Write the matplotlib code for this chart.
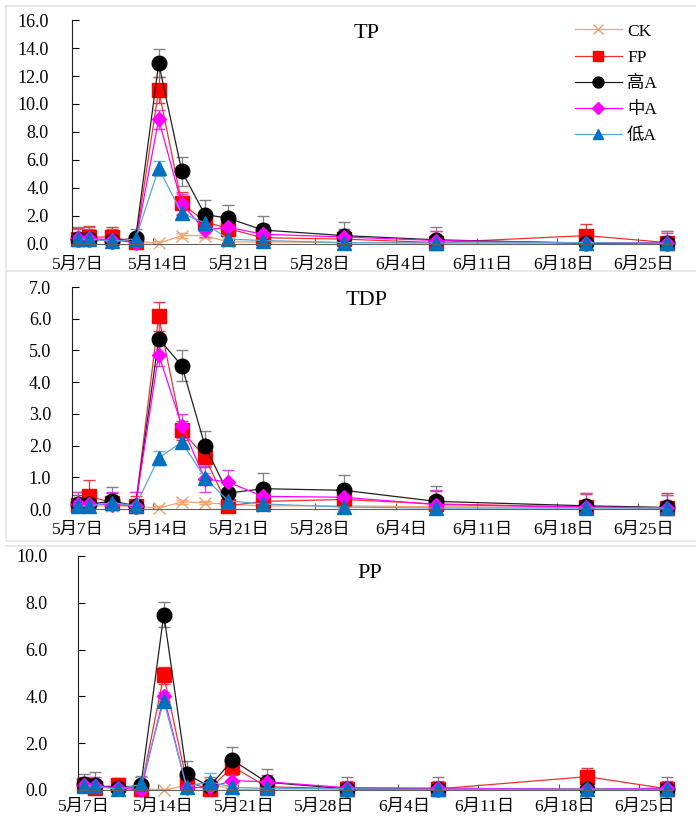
import numpy as np
import pandas as pd
import matplotlib
matplotlib.use("Agg")
import matplotlib.pyplot as plt
from matplotlib.lines import Line2D

plt.rcParams['font.family'] = ['Liberation Serif', 'Noto Sans CJK SC']

# sampling dates
dates = ["2020-05-07", "2020-05-08", "2020-05-10", "2020-05-12", "2020-05-14",
         "2020-05-16", "2020-05-18", "2020-05-20", "2020-05-23", "2020-05-30",
         "2020-06-07", "2020-06-20", "2020-06-27"]
start = pd.Timestamp("2020-05-07")
days = np.array([(pd.Timestamp(d) - start).days for d in dates]) + 0.5

tick_dates = pd.date_range("2020-05-07", "2020-06-25", freq="7D")
tick_labels = [f"{d.month}月{d.day}日" for d in tick_dates]
tick_days = np.array([(d - start).days for d in tick_dates])

series_names = ["CK", "FP", "高A", "中A", "低A"]

# TP
tp_ck   = [0.30, 0.30, 0.25, 0.20, 0.05, 0.60, 0.60, 0.15, 0.15, 0.10, 0.10, 0.05, 0.05]
tp_fp   = [0.35, 0.50, 0.50, 0.12, 11.0, 2.90, 1.60, 1.10, 0.45, 0.35, 0.10, 0.60, 0.10]
tp_high = [0.35, 0.35, 0.25, 0.40, 12.9, 5.20, 2.10, 1.85, 1.00, 0.60, 0.30, 0.05, 0.05]
tp_mid  = [0.40, 0.40, 0.30, 0.10, 8.90, 2.85, 1.00, 1.20, 0.70, 0.50, 0.25, 0.08, 0.08]
tp_low  = [0.35, 0.35, 0.20, 0.35, 5.40, 2.20, 1.50, 0.35, 0.25, 0.10, 0.07, 0.10, 0.05]
tp_err_ck   = [0.2] * 13
tp_err_fp   = [0.8, 0.8, 0.7, 0.6, 0.9, 0.8, 0.6, 0.5, 0.5, 0.5, 0.8, 0.8, 0.8]
tp_err_high = [0.9, 0.9, 0.8, 0.7, 1.0, 1.05, 1.05, 0.95, 1.0, 1.0, 0.95, 0.6, 0.9]
tp_err_mid  = [0.7, 0.7, 0.6, 0.6, 0.7, 0.7, 0.5, 0.5, 0.7, 0.6, 0.7, 0.5, 0.7]
tp_err_low  = [0.3, 0.3, 0.3, 0.4, 0.55, 0.4, 0.3, 0.2, 0.2, 0.2, 0.3, 0.2, 0.2]

# TDP
tdp_ck   = [0.10, 0.10, 0.10, 0.08, 0.03, 0.22, 0.20, 0.15, 0.10, 0.10, 0.07, 0.05, 0.03]
tdp_fp   = [0.14, 0.40, 0.20, 0.10, 6.07, 2.48, 1.63, 0.10, 0.24, 0.30, 0.16, 0.06, 0.04]
tdp_high = [0.15, 0.15, 0.25, 0.10, 5.37, 4.52, 2.00, 0.50, 0.64, 0.59, 0.24, 0.10, 0.05]
tdp_mid  = [0.15, 0.15, 0.14, 0.10, 4.87, 2.63, 0.95, 0.85, 0.40, 0.37, 0.14, 0.06, 0.04]
tdp_low  = [0.10, 0.10, 0.20, 0.10, 1.61, 2.11, 0.98, 0.26, 0.16, 0.06, 0.03, 0.03, 0.03]
tdp_err_ck   = [0.05] * 13
tdp_err_fp   = [0.3, 0.5, 0.3, 0.3, 0.46, 0.3, 0.3, 0.1, 0.2, 0.3, 0.4, 0.4, 0.45]
tdp_err_high = [0.4, 0.4, 0.45, 0.45, 0.5, 0.48, 0.47, 0.3, 0.5, 0.47, 0.47, 0.4, 0.4]
tdp_err_mid  = [0.4, 0.4, 0.4, 0.45, 0.35, 0.38, 0.4, 0.39, 0.37, 0.4, 0.45, 0.45, 0.4]
tdp_err_low  = [0.15, 0.15, 0.15, 0.15, 0.23, 0.15, 0.15, 0.1, 0.1, 0.05, 0.05, 0.05, 0.05]

# PP
pp_ck   = [0.15, 0.10, 0.10, 0.05, 0.00, 0.20, 0.30, 0.00, 0.05, 0.05, 0.03, 0.03, 0.03]
pp_fp   = [0.20, 0.10, 0.20, 0.03, 4.90, 0.36, 0.03, 1.00, 0.14, 0.05, 0.05, 0.57, 0.05]
pp_high = [0.24, 0.20, 0.10, 0.20, 7.50, 0.67, 0.15, 1.28, 0.33, 0.05, 0.05, 0.03, 0.05]
pp_mid  = [0.20, 0.15, 0.10, 0.00, 4.00, 0.10, 0.11, 0.40, 0.35, 0.10, 0.08, 0.03, 0.08]
pp_low  = [0.17, 0.17, 0.03, 0.24, 3.80, 0.14, 0.36, 0.11, 0.07, 0.05, 0.03, 0.03, 0.03]
pp_err_ck   = [0.05] * 13
pp_err_fp   = [0.3, 0.3, 0.3, 0.3, 0.36, 0.4, 0.3, 0.35, 0.3, 0.3, 0.3, 0.35, 0.3]
pp_err_high = [0.45, 0.55, 0.35, 0.4, 0.54, 0.58, 0.4, 0.57, 0.55, 0.5, 0.5, 0.4, 0.5]
pp_err_mid  = [0.35, 0.4, 0.3, 0.3, 0.2, 0.3, 0.3, 0.3, 0.3, 0.3, 0.3, 0.3, 0.3]
pp_err_low  = [0.3, 0.3, 0.2, 0.3, 0.2, 0.2, 0.35, 0.2, 0.2, 0.1, 0.1, 0.1, 0.1]

styles = [
    dict(color="#F2A36B", marker="x", ms=9, mfc="#F2A36B", mec="#F2A36B", ecolor="#F2A36B"),
    dict(color="#F03030", marker="s", ms=9.5, mfc="#FF0000", mec="#FF0000", ecolor="#E03A3A"),
    dict(color="#202020", marker="o", ms=10.5, mfc="#000000", mec="#000000", ecolor="#808080"),
    dict(color="#FF00FF", marker="D", ms=7.5, mfc="#FF00FF", mec="#FF00FF", ecolor="#E040E0"),
    dict(color="#5AA5DA", marker="^", ms=9.5, mfc="#0070C0", mec="#0070C0", ecolor="#6FB0DD"),
]


def draw(ax, vals, errs, ymax, ystep, title, pad_y, pad_x):
    for name, v, e, st in zip(series_names, vals, errs, styles):
        line, caps, bars = ax.errorbar(
            days, v, yerr=e, color=st["color"], lw=0.9, marker=st["marker"],
            ms=st["ms"], mfc=st["mfc"], mec=st["mec"], mew=1.0,
            ecolor=st["ecolor"], elinewidth=0.9, capsize=4, capthick=0.9, label=name)
        line.set_clip_on(False)
    ax.set_xlim(0, 52)
    ax.set_ylim(0, ymax)
    yt = np.arange(0, ymax + 0.01, ystep)
    ax.set_yticks(yt)
    ax.set_yticklabels([f"{t:.1f}" for t in yt])
    ax.set_xticks(tick_days)
    ax.set_xticklabels([])
    ax.set_xticks(tick_days + 0.5, minor=True)
    ax.set_xticklabels(tick_labels, minor=True)
    ax.tick_params(axis="x", which="major", direction="in", length=4, color="#555555")
    ax.tick_params(axis="x", which="minor", length=0, pad=pad_x, labelsize=12.5)
    ax.tick_params(axis="y", direction="in", length=5, pad=pad_y, labelsize=13)
    for s in ["top", "right"]:
        ax.spines[s].set_visible(False)
    ax.spines["left"].set_color("#202020")
    ax.spines["bottom"].set_color("#606060")
    ax.text(0.49, 0.94, title, transform=ax.transAxes, ha="center", va="center", fontsize=16)


W, H = 696, 817
fig = plt.figure(figsize=(W / 100, H / 100), dpi=100)


def box(l, t, r, b):
    return [l / W, 1 - b / H, (r - l) / W, (b - t) / H]


ax1 = fig.add_axes(box(72, 20, 673, 244))
ax2 = fig.add_axes(box(72, 287, 673, 509))
ax3 = fig.add_axes(box(78, 556, 673, 790))

draw(ax1, [tp_ck, tp_fp, tp_high, tp_mid, tp_low],
     [tp_err_ck, tp_err_fp, tp_err_high, tp_err_mid, tp_err_low], 16, 2, "TP", 17, 9)
draw(ax2, [tdp_ck, tdp_fp, tdp_high, tdp_mid, tdp_low],
     [tdp_err_ck, tdp_err_fp, tdp_err_high, tdp_err_mid, tdp_err_low], 7, 1, "TDP", 15, 9)
draw(ax3, [pp_ck, pp_fp, pp_high, pp_mid, pp_low],
     [pp_err_ck, pp_err_fp, pp_err_high, pp_err_mid, pp_err_low], 10, 2, "PP", 22, 6.5)
ax3.texts[0].set_position((0.49, 0.925))

handles = [Line2D([], [], color=st["color"], lw=0.9, marker=st["marker"],
                  ms=st["ms"] * 0.75, mfc=st["mfc"], mec=st["mec"]) for st in styles]
ax1.legend(handles, series_names, loc="upper left", bbox_to_anchor=(0.837, 0.985),
           frameon=False, fontsize=12.5, handlelength=2.7, labelspacing=0.58,
           borderpad=0, borderaxespad=0, handletextpad=0.3)

# light grey panel borders of the composite image
for y in [6, 271, 541, 546]:
    fig.add_artist(Line2D([6 / W, 1], [1 - y / H, 1 - y / H], color="#E3E3E3", lw=1.2))
fig.add_artist(Line2D([6 / W, 6 / W], [1 - 6 / H, 1 - 268 / H], color="#E3E3E3", lw=1.2))
fig.add_artist(Line2D([6 / W, 6 / W], [1 - 271 / H, 1 - 538 / H], color="#E3E3E3", lw=1.2))

fig.savefig("out.png", dpi=100)
